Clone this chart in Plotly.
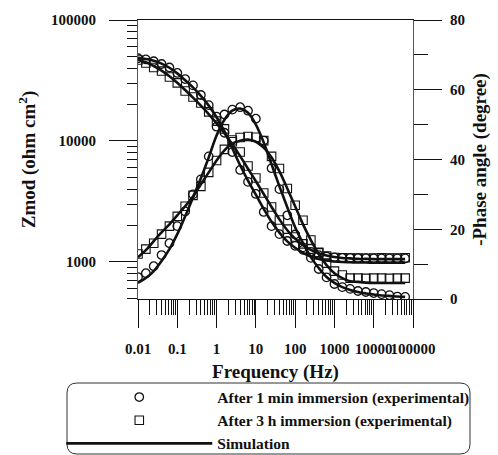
import plotly.graph_objects as go

# ---------------- data ----------------
freq = [0.01, 0.01585, 0.02512, 0.03981, 0.0631, 0.1, 0.1585, 0.2512, 0.3981, 0.631,
        1, 1.585, 2.512, 3.981, 6.31, 10, 15.85, 25.12, 39.81, 63.1,
        100, 158.5, 251.2, 398.1, 631, 1000, 1585, 2512, 3981, 6310,
        10000, 15850, 25120, 39810, 63100]

# |Z| (ohm cm^2), experimental
z_1min = [48300, 47200, 45600, 43300, 40500, 36500, 32500, 28800, 24000, 19800,
          15900, 11700, 8100, 5760, 4590, 3650, 2590, 1980, 1700, 1490,
          1360, 1260, 1210, 1140, 1110, 1090, 1080, 1080, 1075, 1075,
          1070, 1070, 1070, 1070, 1070]
z_3h = [46700, 44100, 40500, 37900, 33800, 30200, 25900, 23100, 20600, 17400,
        14600, 12600, 10200, 8110, 6220, 4950, 3720, 2850, 2220, 1870,
        1610, 1410, 1280, 1190, 1120, 1090, 1085, 1080, 1080, 1075,
        1080, 1085, 1080, 1080, 1085]

# -phase (degree), experimental
ph_1min = [6.3, 7.4, 9.4, 12.6, 16.0, 20.9, 25.1, 30.0, 34.3, 40.9,
           49.4, 52.9, 54.3, 55.0, 54.0, 51.7, 45.4, 37.5, 31.5, 24.0,
           18.5, 14.8, 11.8, 8.6, 6.2, 4.3, 3.4, 2.9, 2.3, 2.0,
           1.7, 1.4, 1.1, 0.7, 0.6]
ph_3h = [12.9, 14.3, 16.0, 18.6, 20.9, 23.7, 26.6, 29.7, 32.3, 36.3,
         39.7, 42.9, 45.1, 46.3, 46.6, 46.4, 45.4, 40.9, 37.4, 31.7,
         26.9, 22.6, 16.9, 13.4, 10.3, 8.0, 6.9, 6.0, 6.0, 5.9,
         6.0, 6.0, 5.9, 6.0, 6.0]

# simulation
z_1min_sim = [48500, 47600, 46000, 43600, 40300, 36200, 31800, 27700, 23600, 19600,
              15700, 12000, 8700, 6300, 4700, 3600, 2750, 2150, 1750, 1480,
              1310, 1190, 1110, 1060, 1030, 1010, 1000, 995, 990, 990,
              985, 985, 985, 985, 985]
z_3h_sim = [47000, 44800, 41600, 38200, 34300, 30300, 26400, 22800, 19600, 16700,
            14000, 11600, 9400, 7500, 5900, 4650, 3650, 2850, 2250, 1830,
            1560, 1380, 1260, 1180, 1130, 1100, 1080, 1070, 1060, 1060,
            1055, 1055, 1055, 1055, 1055]
ph_1min_sim = [4.6, 6.0, 8.0, 10.9, 14.3, 18.6, 23.7, 29.1, 34.6, 40.6,
               46.9, 51.4, 54.0, 54.6, 53.4, 50.0, 44.9, 38.6, 32.3, 26.3,
               20.6, 16.0, 12.0, 8.9, 6.3, 4.6, 3.4, 2.6, 2.0, 1.6,
               1.3, 1.0, 0.9, 0.7, 0.6]
ph_3h_sim = [12.0, 14.0, 16.6, 19.1, 21.4, 24.0, 26.6, 29.4, 32.9, 36.3,
             39.7, 42.6, 44.6, 45.4, 45.7, 45.1, 43.4, 40.6, 36.6, 31.7,
             26.6, 21.4, 16.9, 12.9, 9.7, 7.4, 6.0, 5.1, 4.9, 4.7,
             4.6, 4.6, 4.6, 4.6, 4.6]

x_tickvals = [0.01, 0.1, 1, 10, 100, 1000, 10000, 100000]
x_ticktext = ["0.01", "0.1", "1", "10", "100", "1000", "10000", "100000"]
z_tickvals = [1000, 10000, 100000]
z_ticktext = ["1000", "10000", "100000"]
ph_tickvals = [0, 20, 40, 60, 80]
ph_ticktext = ["0", "20", "40", "60", "80"]

legend_names = ["After 1 min immersion (experimental)",
                "After 3 h immersion (experimental)",
                "Simulation"]
x_title = "Frequency (Hz)"
y_title = "Zmod (ohm cm<sup>2</sup>)"
y2_title = "-Phase angle (degree)"

# ---------------- styling ----------------
FONT = "Liberation Serif, Times New Roman, serif"
BLACK = "#111111"
MSIZE = 8.5
SIMW = 2.6

x_minor = [m * 10.0 ** e for e in range(-2, 5) for m in range(2, 10)]
y_minor = [m * 10.0 ** e for e in range(2, 5) for m in range(2, 10) if m * 10.0 ** e > 494]

fig = go.Figure()

fig.add_trace(go.Scatter(x=freq, y=z_1min, mode="markers", name=legend_names[0],
                         marker=dict(symbol="circle-open", size=MSIZE, color=BLACK,
                                     line=dict(width=1.3, color=BLACK))))
fig.add_trace(go.Scatter(x=freq, y=z_3h, mode="markers", name=legend_names[1],
                         marker=dict(symbol="square-open", size=MSIZE, color=BLACK,
                                     line=dict(width=1.1, color=BLACK))))
fig.add_trace(go.Scatter(x=freq, y=z_1min_sim, mode="lines", name=legend_names[2],
                         line=dict(color=BLACK, width=SIMW, shape="spline", smoothing=1)))
fig.add_trace(go.Scatter(x=freq, y=z_3h_sim, mode="lines", showlegend=False,
                         line=dict(color=BLACK, width=SIMW, shape="spline", smoothing=1)))
fig.add_trace(go.Scatter(x=freq, y=ph_1min, mode="markers", showlegend=False, yaxis="y2",
                         marker=dict(symbol="circle-open", size=MSIZE, color=BLACK,
                                     line=dict(width=1.3, color=BLACK))))
fig.add_trace(go.Scatter(x=freq, y=ph_3h, mode="markers", showlegend=False, yaxis="y2",
                         marker=dict(symbol="square-open", size=MSIZE, color=BLACK,
                                     line=dict(width=1.1, color=BLACK))))
fig.add_trace(go.Scatter(x=freq, y=ph_1min_sim, mode="lines", showlegend=False, yaxis="y2",
                         line=dict(color=BLACK, width=SIMW, shape="spline", smoothing=1)))
fig.add_trace(go.Scatter(x=freq, y=ph_3h_sim, mode="lines", showlegend=False, yaxis="y2",
                         line=dict(color=BLACK, width=SIMW, shape="spline", smoothing=1)))

tickfont = dict(family=FONT, size=15, color=BLACK, weight="bold")
titlefont = dict(family=FONT, size=19, color=BLACK, weight="bold")

fig.update_layout(
    width=498, height=455,
    margin=dict(l=138, r=85, t=20, b=156, autoexpand=False),
    paper_bgcolor="white", plot_bgcolor="white",
    xaxis=dict(type="log", range=[-2, 5], showgrid=False, zeroline=False,
               showline=True, linecolor=BLACK, linewidth=1, mirror=True,
               ticks="outside", ticklen=28, tickwidth=1, tickcolor=BLACK,
               tickvals=x_tickvals, ticktext=x_ticktext, tickfont=tickfont,
               tickangle=0, ticklabelstandoff=8,
               minor=dict(tickvals=x_minor, ticks="outside", ticklen=15,
                          tickwidth=1, tickcolor=BLACK, showgrid=False),
               title=dict(text=x_title, font=titlefont, standoff=8)),
    yaxis=dict(type="log", range=[2.694, 5], showgrid=False, zeroline=False,
               showline=True, linecolor="#555555", linewidth=1,
               ticks="outside", ticklen=28, tickwidth=1, tickcolor=BLACK,
               tickvals=z_tickvals, ticktext=z_ticktext, tickfont=tickfont,
               ticklabelstandoff=10,
               minor=dict(tickvals=y_minor, ticks="outside", ticklen=10,
                          tickwidth=1, tickcolor=BLACK, showgrid=False),
               title=dict(text=y_title, font=titlefont, standoff=10)),
    yaxis2=dict(overlaying="y", side="right", range=[0, 80], showgrid=False,
                zeroline=False, showline=True, linecolor="#555555", linewidth=1,
                ticks="outside", ticklen=28, tickwidth=1, tickcolor=BLACK,
                tickvals=ph_tickvals, ticktext=ph_ticktext, tickfont=tickfont,
                ticklabelstandoff=5,
                minor=dict(dtick=10, ticks="outside", ticklen=14,
                           tickwidth=1, tickcolor=BLACK, showgrid=False),
                title=dict(text=y2_title, font=titlefont, standoff=8)),
    legend=dict(x=-0.279, xanchor="left", y=-0.292, yanchor="top",
                bgcolor="rgba(0,0,0,0)", borderwidth=0, itemwidth=146,
                font=dict(family=FONT, size=15.5, color=BLACK, weight="bold"),
                traceorder="normal", itemclick=False),
    showlegend=True,
)

# rounded legend frame (paper coordinates)
x0, x1 = (67 - 138) / 275, (470 - 138) / 275
y0, y1 = (299 - 383) / 279, (299 - 454) / 279
rx, ry = 10 / 275, 10 / 279
path = (f"M {x0 + rx},{y0} L {x1 - rx},{y0} Q {x1},{y0} {x1},{y0 - ry} "
        f"L {x1},{y1 + ry} Q {x1},{y1} {x1 - rx},{y1} L {x0 + rx},{y1} "
        f"Q {x0},{y1} {x0},{y1 + ry} L {x0},{y0 - ry} Q {x0},{y0} {x0 + rx},{y0} Z")
fig.add_shape(type="path", xref="paper", yref="paper", path=path,
              line=dict(color="#333333", width=1))

fig.write_html("out.html", config={"displayModeBar": False},
               post_script="document.body.style.margin='0px';document.body.style.overflow='hidden';")
